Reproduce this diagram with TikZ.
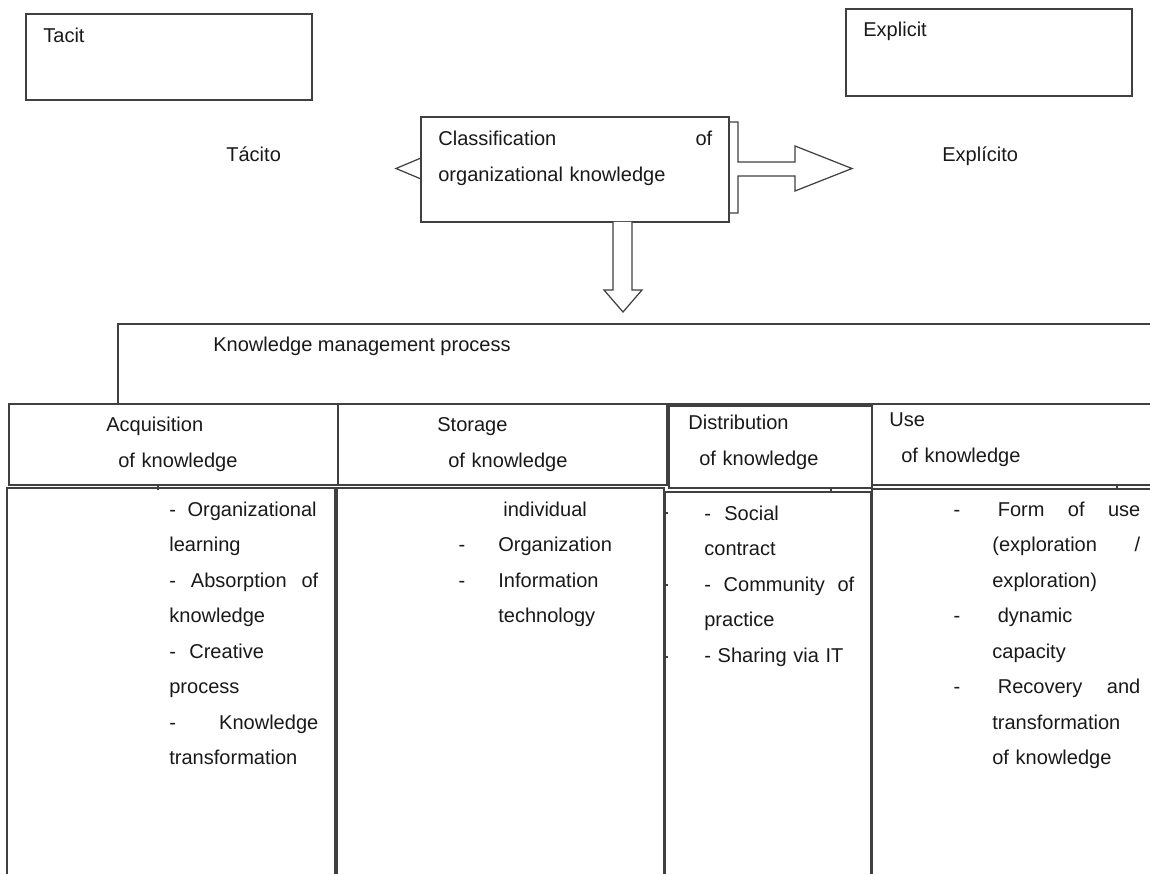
\documentclass[tikz,border=0pt]{standalone}
\usepackage{fontspec}
\setmainfont{Liberation Sans}
\usepackage{tikz}

\newcommand{\kmfont}{\fontsize{11.4pt}{20.2pt}\selectfont}
\newcommand{\dashin}[1]{\leavevmode\llap{-\hspace{#1}}}

\begin{document}
\begin{tikzpicture}[x=0.02cm, y=-0.02cm,
    box/.style={draw=black!75, line width=0.7pt},
    lbl/.style={anchor=base west, inner sep=0pt, text=black!90, font=\kmfont},
    coltext/.style={lbl, align=left, text width=#1}]
\useasboundingbox (0,0) rectangle (1150,874);
\clip (0,0) rectangle (1150,874);

% Tacit and explicit boxes
\draw[box] (26,14) rectangle (312,100);
\node[lbl] (tacit) at (43,42.7) {Tacit};
\draw[box] (846,9) rectangle (1132,96);
\node[lbl] (explicit) at (863,36.7) {Explicit};

% Labels beside the arrows
\node[lbl] (tacito) at (226,161.7) {Tácito};
\node[lbl] (explicito) at (942,161.7) {Explícito};

% Right arrow callout behind the classification box
\draw[box, fill=white] (600,122) -- (738,122) -- (738,162) -- (795,162) -- (795,146)
    -- (852,168.5) -- (795,191) -- (795,176) -- (738,176) -- (738,213) -- (600,213) -- cycle;
% Left arrow tip
\draw[box, fill=white] (430,158) -- (421,158) -- (396,168.5) -- (421,179) -- (430,179);

% Classification box
\draw[box, fill=white] (421,117) rectangle (729,222);
\node[coltext=5.6cm] (classif) at (438,145.7)
    {\makebox[5.48cm]{Classification\hfill of}\\organizational knowledge};

% Down arrow
\draw[box, fill=white] (613,222) -- (613,290) -- (604,290) -- (623,312) -- (642,290)
    -- (632,290) -- (632,222);

% Knowledge management process
\draw[box] (118,324) rectangle (1170,404);
\node[lbl] (kmp) at (213,351.7) {Knowledge management process};

% Header row
\draw[box] (9,404) rectangle (338,485);
\draw[box] (338,404) rectangle (667,485);
\draw[box] (669,406) rectangle (872,488);
\draw[box] (872,404) rectangle (1170,485);
\draw[box] (872,489) -- (1170,489);
\node[coltext=4cm] (acq) at (106,431.7) {Acquisition\\\hspace*{0.24cm}of knowledge};
\node[coltext=4cm] (sto) at (437,431.7) {Storage\\\hspace*{0.22cm}of knowledge};
\node[coltext=3.5cm] (dis) at (688,430) {Distribution\\\hspace*{0.22cm}of knowledge};
\node[coltext=4cm] (use) at (889,426.7) {Use\\\hspace*{0.24cm}of knowledge};

% Body columns
\draw[box] (7,488) rectangle (335,900);
\draw[box] (337,488) rectangle (664,900);
\draw[box] (665,492) rectangle (871,900);
\draw[box] (872,489) -- (872,900);

% Small ticks
\foreach \y in {513,585,657}
    \draw[box] (664,\y) -- (668,\y);
\draw[box] (158,485) -- (158,490);
\draw[box] (831,488) -- (831,492);
\draw[box] (1117,485) -- (1117,490);

% Column texts
\node[coltext=3.2cm] (acqlist) at (169,516.5)
    {\makebox[2.98cm]{-\hspace{0.23cm}Organizational\hfill}\\
     learning\\
     \makebox[2.98cm]{-\hfill Absorption\hfill of}\\
     knowledge\\
     -~ Creative\\
     process\\
     \makebox[2.98cm]{-\hfill Knowledge}\\
     transformation};
\node[coltext=3cm] (stolist) at (498,516.5)
    {\leavevmode\kern0.1cm individual\\
     \dashin{0.66cm}Organization\\
     \dashin{0.66cm}Information\\
     technology};
\node[coltext=3.2cm] (dislist) at (704,520.5)
    {-~ Social\\
     contract\\
     \makebox[3cm]{-\hfill Community\hfill of}\\
     practice\\
     - Sharing via IT};
\node[coltext=3.2cm] (uselist) at (992,516.5)
    {\dashin{0.64cm}\makebox[2.96cm]{\kern0.11cm Form\hfill of\hfill use}\\
     \makebox[2.96cm]{(exploration\hfill /}\\
     exploration)\\
     \dashin{0.64cm}\kern0.11cm dynamic\\
     capacity\\
     \dashin{0.64cm}\makebox[2.96cm]{\kern0.11cm Recovery\hfill and}\\
     transformation\\
     of knowledge};
\end{tikzpicture}
\end{document}
